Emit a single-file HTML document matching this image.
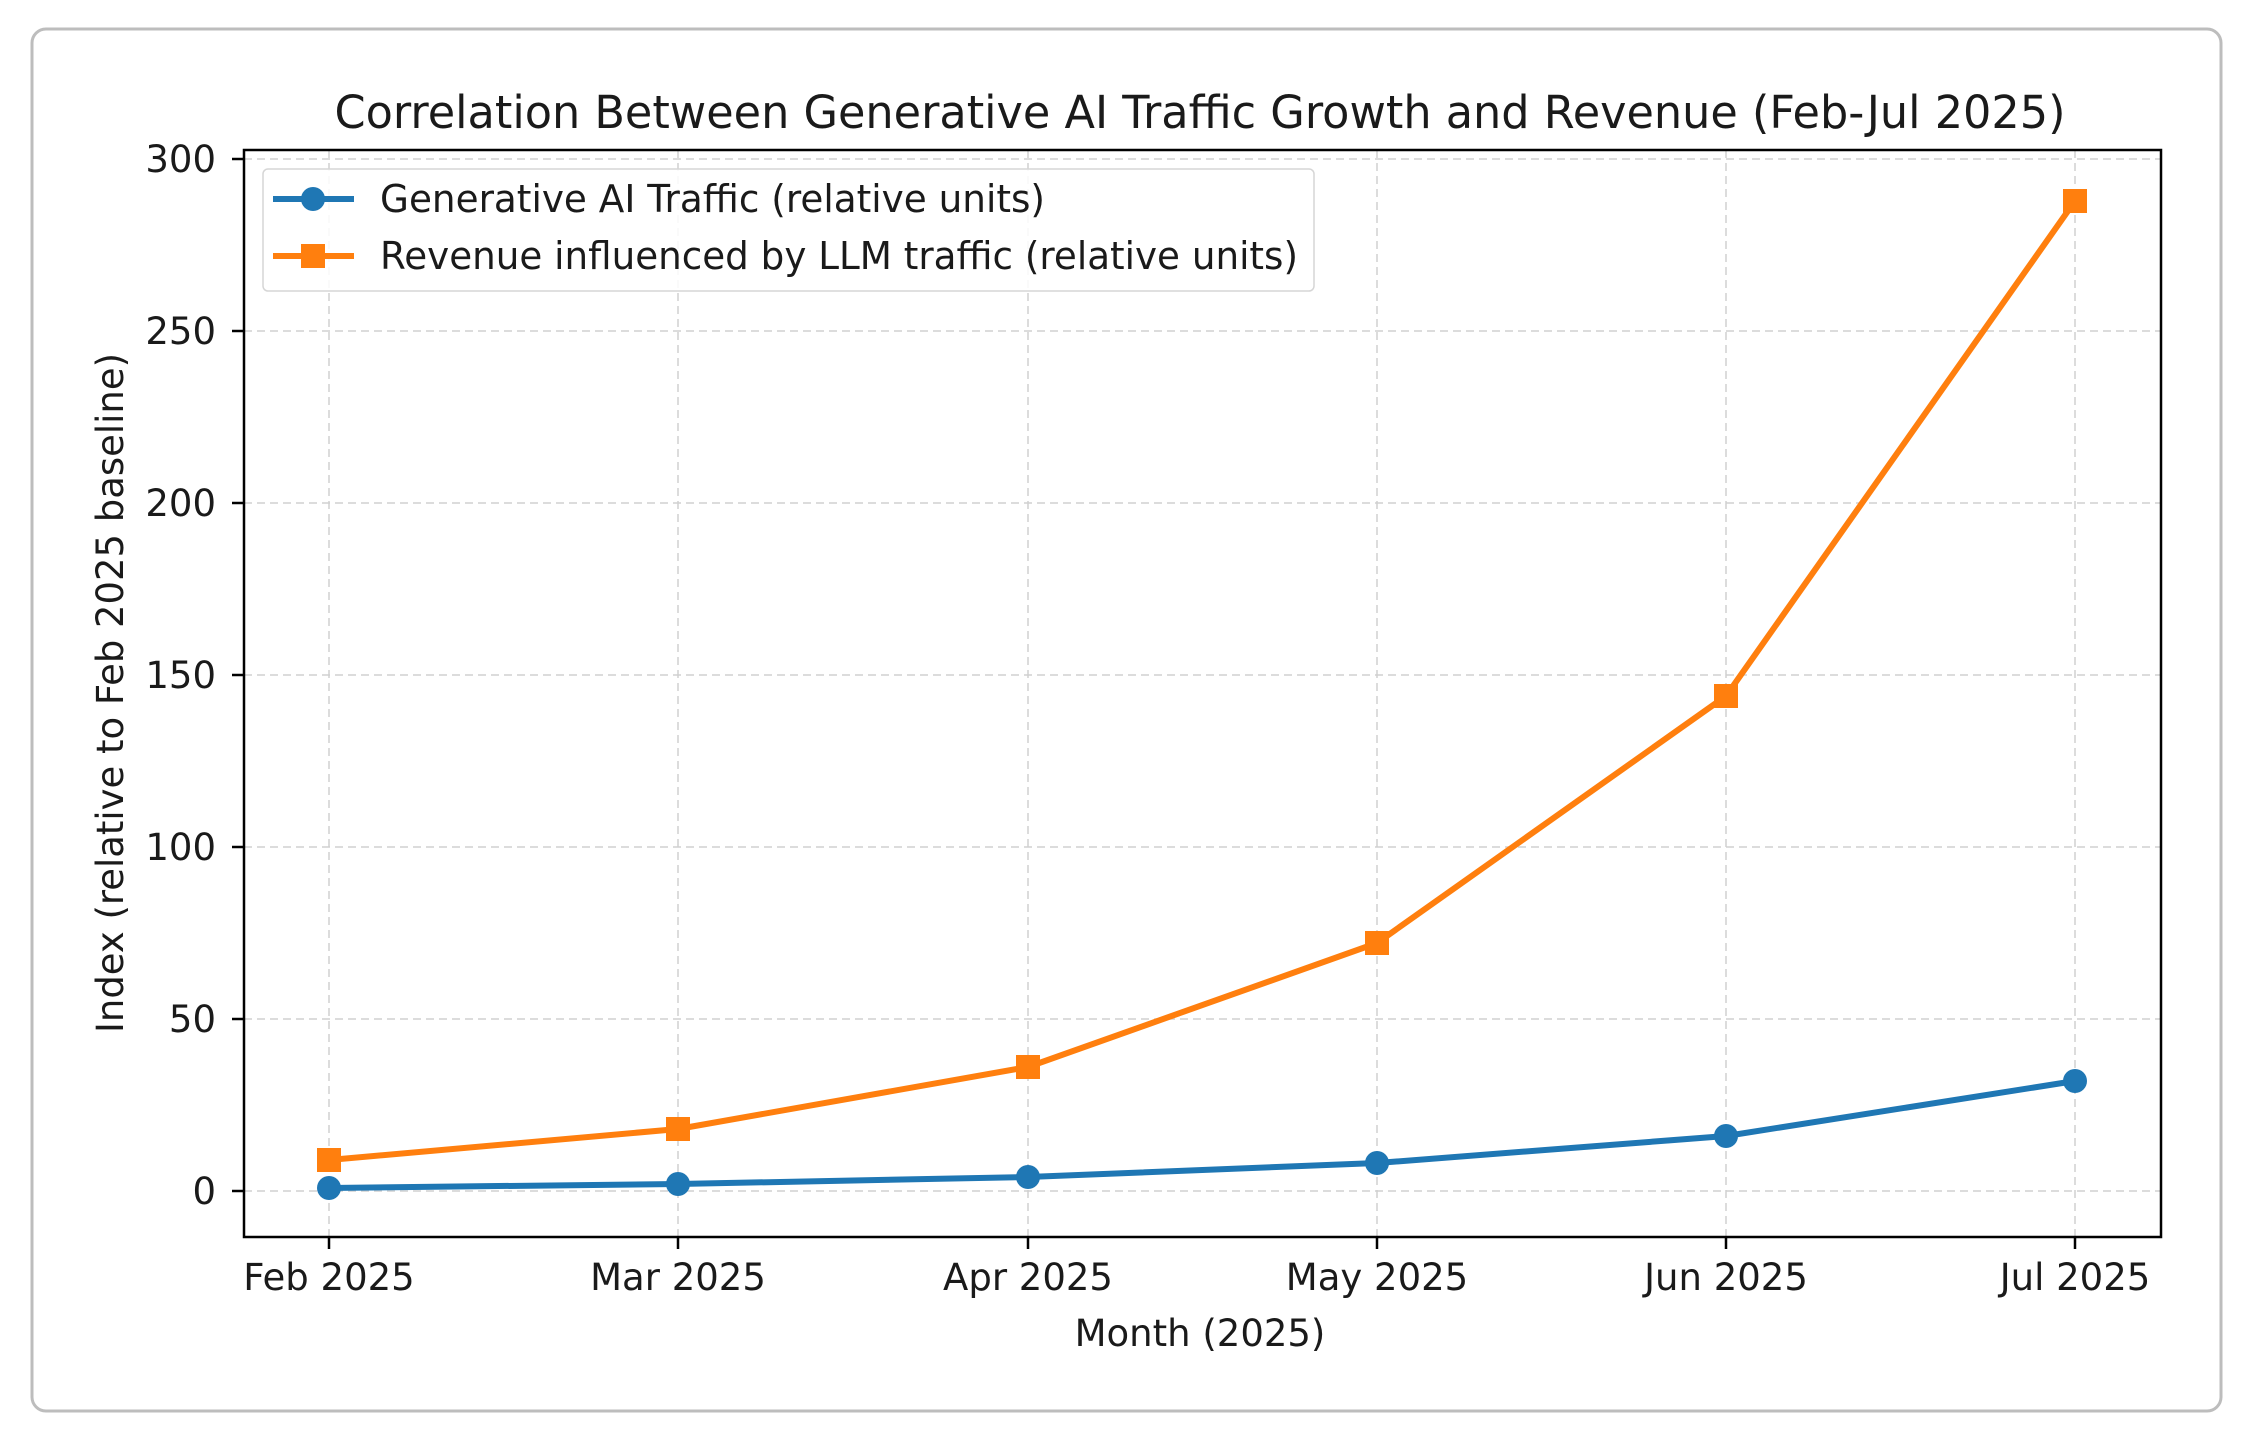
<!DOCTYPE html>
<html><head><meta charset="utf-8"><style>
html,body{margin:0;padding:0;background:#fff;}
svg{display:block;}
text{font-family:"DejaVu Sans","Liberation Sans",sans-serif;fill:#1a1a1a;}
</style></head><body>
<svg width="2250" height="1438" viewBox="0 0 2250 1438" xmlns="http://www.w3.org/2000/svg">
<rect x="32" y="29" width="2189" height="1382" rx="14" ry="14" fill="#fff" stroke="#bdbdbd" stroke-width="3"/>
<text x="1200" y="128" font-size="45" text-anchor="middle" textLength="1731" lengthAdjust="spacingAndGlyphs">Correlation Between Generative AI Traffic Growth and Revenue (Feb-Jul 2025)</text>
<g stroke="#d0d0d0" stroke-width="1.5" stroke-dasharray="8,5" fill="none">
<line x1="329" y1="150" x2="329" y2="1237"/><line x1="678" y1="150" x2="678" y2="1237"/><line x1="1028" y1="150" x2="1028" y2="1237"/><line x1="1377" y1="150" x2="1377" y2="1237"/><line x1="1726" y1="150" x2="1726" y2="1237"/><line x1="2075" y1="150" x2="2075" y2="1237"/>
<line x1="244" y1="1191" x2="2161" y2="1191"/><line x1="244" y1="1019" x2="2161" y2="1019"/><line x1="244" y1="847" x2="2161" y2="847"/><line x1="244" y1="675" x2="2161" y2="675"/><line x1="244" y1="503" x2="2161" y2="503"/><line x1="244" y1="331" x2="2161" y2="331"/><line x1="244" y1="159" x2="2161" y2="159"/>
</g>
<polyline fill="none" stroke="#ff7f0e" stroke-width="6" stroke-linejoin="round" points="329,1160 678,1129 1028,1067 1377,943 1726,696 2075,201"/>
<g fill="#ff7f0e">
<rect x="317" y="1148" width="24" height="24"/><rect x="666" y="1117" width="24" height="24"/><rect x="1016" y="1055" width="24" height="24"/><rect x="1365" y="931" width="24" height="24"/><rect x="1714" y="684" width="24" height="24"/><rect x="2063" y="189" width="24" height="24"/>
</g>
<polyline fill="none" stroke="#1f77b4" stroke-width="6" stroke-linejoin="round" points="329,1188 678,1184 1028,1177 1377,1163 1726,1136 2075,1081"/>
<g fill="#1f77b4">
<circle cx="329" cy="1188" r="12"/><circle cx="678" cy="1184" r="12"/><circle cx="1028" cy="1177" r="12"/><circle cx="1377" cy="1163" r="12"/><circle cx="1726" cy="1136" r="12"/><circle cx="2075" cy="1081" r="12"/>
</g>
<rect x="244" y="150" width="1917" height="1087" fill="none" stroke="#000" stroke-width="2.5"/>
<g stroke="#000" stroke-width="2.5">
<line x1="232" y1="1191" x2="244" y2="1191"/><line x1="232" y1="1019" x2="244" y2="1019"/><line x1="232" y1="847" x2="244" y2="847"/><line x1="232" y1="675" x2="244" y2="675"/><line x1="232" y1="503" x2="244" y2="503"/><line x1="232" y1="331" x2="244" y2="331"/><line x1="232" y1="159" x2="244" y2="159"/>
<line x1="329" y1="1237" x2="329" y2="1249"/><line x1="678" y1="1237" x2="678" y2="1249"/><line x1="1028" y1="1237" x2="1028" y2="1249"/><line x1="1377" y1="1237" x2="1377" y2="1249"/><line x1="1726" y1="1237" x2="1726" y2="1249"/><line x1="2075" y1="1237" x2="2075" y2="1249"/>
</g>
<g font-size="37" text-anchor="end">
<text x="216" y="1204">0</text><text x="216" y="1032">50</text><text x="216" y="860">100</text><text x="216" y="688">150</text><text x="216" y="516">200</text><text x="216" y="344">250</text><text x="216" y="172">300</text>
</g>
<g font-size="37" text-anchor="middle">
<text x="329" y="1290">Feb 2025</text><text x="678" y="1290">Mar 2025</text><text x="1028" y="1290">Apr 2025</text><text x="1377" y="1290">May 2025</text><text x="1726" y="1290">Jun 2025</text><text x="2075" y="1290">Jul 2025</text>
</g>
<text x="1200" y="1346" font-size="37" text-anchor="middle">Month (2025)</text>
<text transform="translate(123,693) rotate(-90)" font-size="37" text-anchor="middle" textLength="680" lengthAdjust="spacingAndGlyphs">Index (relative to Feb 2025 baseline)</text>
<rect x="263" y="169" width="1051" height="122" rx="5" fill="#fff" fill-opacity="0.85" stroke="#d6d6d6" stroke-width="1.5"/>
<line x1="273" y1="199" x2="354" y2="199" stroke="#1f77b4" stroke-width="6"/>
<circle cx="313" cy="199" r="12" fill="#1f77b4"/>
<line x1="273" y1="256" x2="354" y2="256" stroke="#ff7f0e" stroke-width="6"/>
<rect x="301" y="244" width="24" height="24" fill="#ff7f0e"/>
<text x="380" y="212" font-size="38" textLength="665" lengthAdjust="spacingAndGlyphs">Generative AI Traffic (relative units)</text>
<text x="380" y="269" font-size="38" textLength="918" lengthAdjust="spacingAndGlyphs">Revenue influenced by LLM traffic (relative units)</text>
</svg>
</body></html>
